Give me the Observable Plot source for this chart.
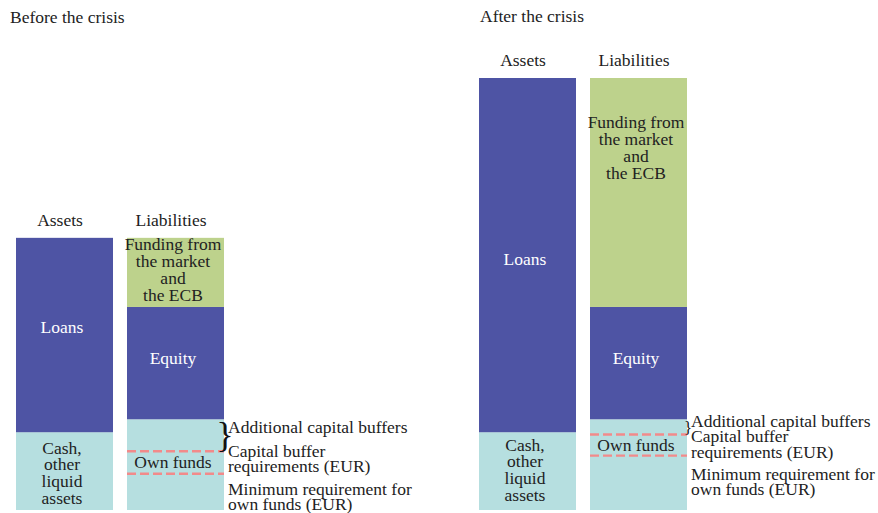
<!DOCTYPE html>
<html>
<head>
<meta charset="utf-8">
<script src="https://cdn.jsdelivr.net/npm/d3@7"></script>
<script src="https://cdn.jsdelivr.net/npm/@observablehq/plot@0.6"></script>
<style>
  html, body { margin: 0; padding: 0; background: #fff; }
  #wrap { position: relative; width: 878px; height: 513px; font-family: "Liberation Serif", "DejaVu Serif", serif; }
  .title { position: absolute; font-size: 17.5px; color: #222; line-height: 1; }
</style>
</head>
<body>
<div id="wrap">
  <div class="title" style="left:10px; top:9px;">Before the crisis</div>
  <div class="title" style="left:480px; top:8px;">After the crisis</div>
</div>
<script>
// ---- data (arbitrary balance-sheet units; "After" total = 100) ----
const panels = ["Before the crisis", "After the crisis"];
const sides = ["Assets", "Liabilities"];
const items = ["Cash", "Loans", "Own funds", "Equity", "Funding"];
const itemColors = ["#b6dfe0", "#4e54a4", "#b6dfe0", "#4e54a4", "#bdd28c"];

// stacked from the bottom
const assetItems = ["Cash", "Loans"];
const liabilityItems = ["Own funds", "Equity", "Funding"];
const assetsBefore = [18, 45];
const assetsAfter = [18, 82];
const liabilitiesBefore = [21, 26, 16];
const liabilitiesAfter = [21, 26, 53];

// requirement lines (same units)
const capitalBufferReq = [13.7, 17.6];   // before, after
const minimumReq = [8.5, 12.7];          // before, after

// segment labels
const segLabels = [
  {panel: panels[0], side: "Assets", text: "Loans", y: 42.4, light: true},
  {panel: panels[0], side: "Assets", text: "Cash,\nother\nliquid\nassets", y: 8.6, light: false},
  {panel: panels[0], side: "Liabilities", text: "Funding from\nthe market\nand\nthe ECB", y: 55.6, light: false},
  {panel: panels[0], side: "Liabilities", text: "Equity", y: 35.2, light: true},
  {panel: panels[0], side: "Liabilities", text: "Own funds", y: 11.1, light: false},
  {panel: panels[1], side: "Assets", text: "Loans", y: 58.1, light: true},
  {panel: panels[1], side: "Assets", text: "Cash,\nother\nliquid\nassets", y: 9.3, light: false},
  {panel: panels[1], side: "Liabilities", text: "Funding from\nthe market\nand\nthe ECB", y: 83.9, light: false},
  {panel: panels[1], side: "Liabilities", text: "Equity", y: 35.2, light: true},
  {panel: panels[1], side: "Liabilities", text: "Own funds", y: 15.0, light: false}
];

// annotations to the right of the liabilities bar
const notes = [
  {panel: panels[0], text: "Additional capital buffers", y: 19.2},
  {panel: panels[0], text: "Capital buffer\nrequirements (EUR)", y: 11.8},
  {panel: panels[0], text: "Minimum requirement for\nown funds (EUR)", y: 3.0},
  {panel: panels[1], text: "Additional capital buffers", y: 20.4},
  {panel: panels[1], text: "Capital buffer\nrequirements (EUR)", y: 15.2},
  {panel: panels[1], text: "Minimum requirement for\nown funds (EUR)", y: 6.5}
];

// ---- build tables ----
const rows = [];
[[assetsBefore, liabilitiesBefore], [assetsAfter, liabilitiesAfter]].forEach(([a, l], i) => {
  a.forEach((v, j) => rows.push({panel: panels[i], side: "Assets", item: assetItems[j], value: v}));
  l.forEach((v, j) => rows.push({panel: panels[i], side: "Liabilities", item: liabilityItems[j], value: v}));
});
const totals = [];
panels.forEach(p => sides.forEach(s => {
  totals.push({panel: p, side: s, total: d3.sum(rows.filter(r => r.panel === p && r.side === s), r => r.value)});
}));
const reqLines = [];
panels.forEach((p, i) => {
  reqLines.push({panel: p, side: "Liabilities", y: capitalBufferReq[i]});
  reqLines.push({panel: p, side: "Liabilities", y: minimumReq[i]});
});
const ownTop = [liabilitiesBefore[0], liabilitiesAfter[0]];
const braces = panels.map((p, i) => {
  const top = ownTop[i], low = capitalBufferReq[i];
  return {panel: p, side: "Liabilities", y: (top + low) / 2, span: top - low};
});
const pxPerUnit = 432 / 100;

const font = "'Liberation Serif', 'DejaVu Serif', serif";
const fs = 17.5;
const plot = Plot.plot({
  width: 878,
  height: 513,
  marginTop: 78,
  marginBottom: 3,
  marginLeft: 16,
  marginRight: 191,
  style: `font-family: ${font}; font-size: ${fs}px; color: #222; background: transparent; overflow: visible;`,
  fx: {domain: panels, paddingInner: 255 / 463, paddingOuter: 0, axis: null},
  x: {domain: sides, paddingInner: 14 / 111, paddingOuter: 0, axis: null},
  y: {domain: [0, 100], axis: null},
  color: {domain: items, range: itemColors},
  marks: [
    Plot.barY(rows, {x: "side", y: "value", fx: "panel", fill: "item", order: null}),
    Plot.tickY(reqLines, {x: "side", y: "y", fx: "panel", stroke: "#f28a8a", strokeWidth: 2.4, strokeDasharray: "9,4"}),
    Plot.text(totals, {x: "side", y: "total", fx: "panel", text: "side", dy: -18, dx: -5, fontSize: fs, fontFamily: font, fill: "#222"}),
    Plot.text(segLabels, {x: "side", y: "y", fx: "panel", text: "text", dx: -3, fontSize: fs, fontFamily: font, lineHeight: 0.96,
      fill: d => d.light ? "#ffffff" : "#222222"}),
    Plot.text(notes, {x: () => "Liabilities", y: "y", fx: "panel", text: "text", textAnchor: "start",
      dx: 52, fontSize: fs, fontFamily: font, lineHeight: 0.9, fill: "#222"}),
    Plot.text(braces, {x: "side", y: "y", fx: "panel", text: () => "}", textAnchor: "middle", dx: 49,
      fontSize: d => d.span * pxPerUnit * 1.15, fontFamily: font, fill: "#111"})
  ]
});
plot.style.position = "absolute";
plot.style.left = "0px";
plot.style.top = "0px";
document.getElementById("wrap").appendChild(plot);
</script>
</body>
</html>
